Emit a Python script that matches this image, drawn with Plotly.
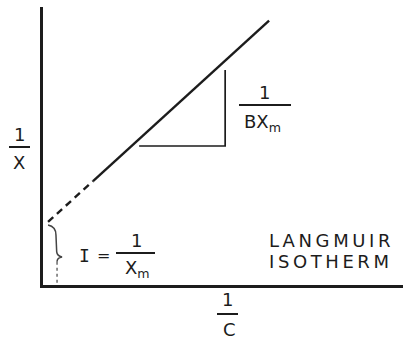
import plotly.graph_objects as go

# Langmuir isotherm, linearised: 1/X plotted against 1/C
inv_c_extrap = [0.14, 1.39]      # extrapolated part of the line (dashed)
inv_x_extrap = [2.27, 3.74]
inv_c_fit = [1.39, 6.28]         # measured range of the line (solid)
inv_x_fit = [3.74, 9.51]
slope_c = [2.67, 5.06, 5.06]     # slope triangle: run then rise
slope_x = [5.00, 5.00, 7.73]
intercept = 2.10                 # 1/X at 1/C = 0

INK = "#1c1c1c"
W, H = 403, 340
L, R, T, B = 43, 0, 7, 55
PW, PH = W - L - R, H - T - B


def fx(px):
    return (px - L) / PW


def fy(py):
    return (H - B - py) / PH


fig = go.Figure()
fig.add_trace(go.Scatter(x=inv_c_extrap, y=inv_x_extrap, mode="lines",
                         line=dict(color=INK, width=2.4, dash="7px,5px"),
                         hoverinfo="skip"))
fig.add_trace(go.Scatter(x=inv_c_fit, y=inv_x_fit, mode="lines",
                         line=dict(color=INK, width=2.4), hoverinfo="skip"))
fig.add_trace(go.Scatter(x=slope_c, y=slope_x, mode="lines",
                         line=dict(color=INK, width=1.7), hoverinfo="skip"))

shapes = []
# brace marking the intercept on the 1/X axis
shapes.append(dict(type="path", xref="x", yref="y",
                   path=f"M0.14,{intercept + 0.06} Q0.36,{intercept} 0.36,1.80 "
                        "L0.38,1.20 Q0.39,1.04 0.53,1.01 Q0.39,0.98 0.39,0.84",
                   line=dict(color="#444", width=1.5)))
shapes.append(dict(type="line", xref="x", yref="y", x0=0.39, x1=0.39, y0=0.84, y1=0,
                   line=dict(color="#555", width=1.3, dash="dot")))


def frac_bar(x0, x1, y):
    shapes.append(dict(type="line", xref="paper", yref="paper",
                       x0=fx(x0), x1=fx(x1), y0=fy(y), y1=fy(y),
                       line=dict(color=INK, width=2)))


frac_bar(9, 30, 147)      # 1/X
frac_bar(239, 291, 105)   # 1/(B X_m)
frac_bar(116, 155, 253)   # 1/X_m
frac_bar(217, 238, 314)   # 1/C

annotations = []


def label(text, x, y, size=18, family="DejaVu Sans", xanchor="center"):
    annotations.append(dict(text=text, x=fx(x), y=fy(y), xref="paper", yref="paper",
                            xanchor=xanchor, yanchor="middle", showarrow=False,
                            font=dict(family=family, size=size, color=INK)))


label("1", 19, 134)
label("X", 19, 162)
label("1", 264, 92)
label("BX<sub>m</sub>", 262, 123)
label("I", 84, 255, family="DejaVu Sans Mono")
label("=", 103, 255, size=16)
label("1", 136, 240)
label("X<sub>m</sub>", 137, 269)
label("1", 228, 299)
label("C", 229, 330)
label("L\u2009A\u2009N\u2009G\u2009M\u2009U\u2009I\u2009R", 267, 240, xanchor="left")
label("I\u2009S\u2009O\u2009T\u2009H\u2009E\u2009R\u2009M", 267, 261, xanchor="left")

axis = dict(range=[0, 10], showline=True, linecolor=INK, linewidth=3,
            showgrid=False, zeroline=False, showticklabels=False, ticks="",
            fixedrange=True)
fig.update_layout(
    width=W, height=H,
    margin=dict(l=L, r=R, t=T, b=B, pad=0),
    paper_bgcolor="white", plot_bgcolor="white",
    showlegend=False,
    xaxis=axis, yaxis=axis,
    shapes=shapes, annotations=annotations,
)
fig.write_html("out.html")
